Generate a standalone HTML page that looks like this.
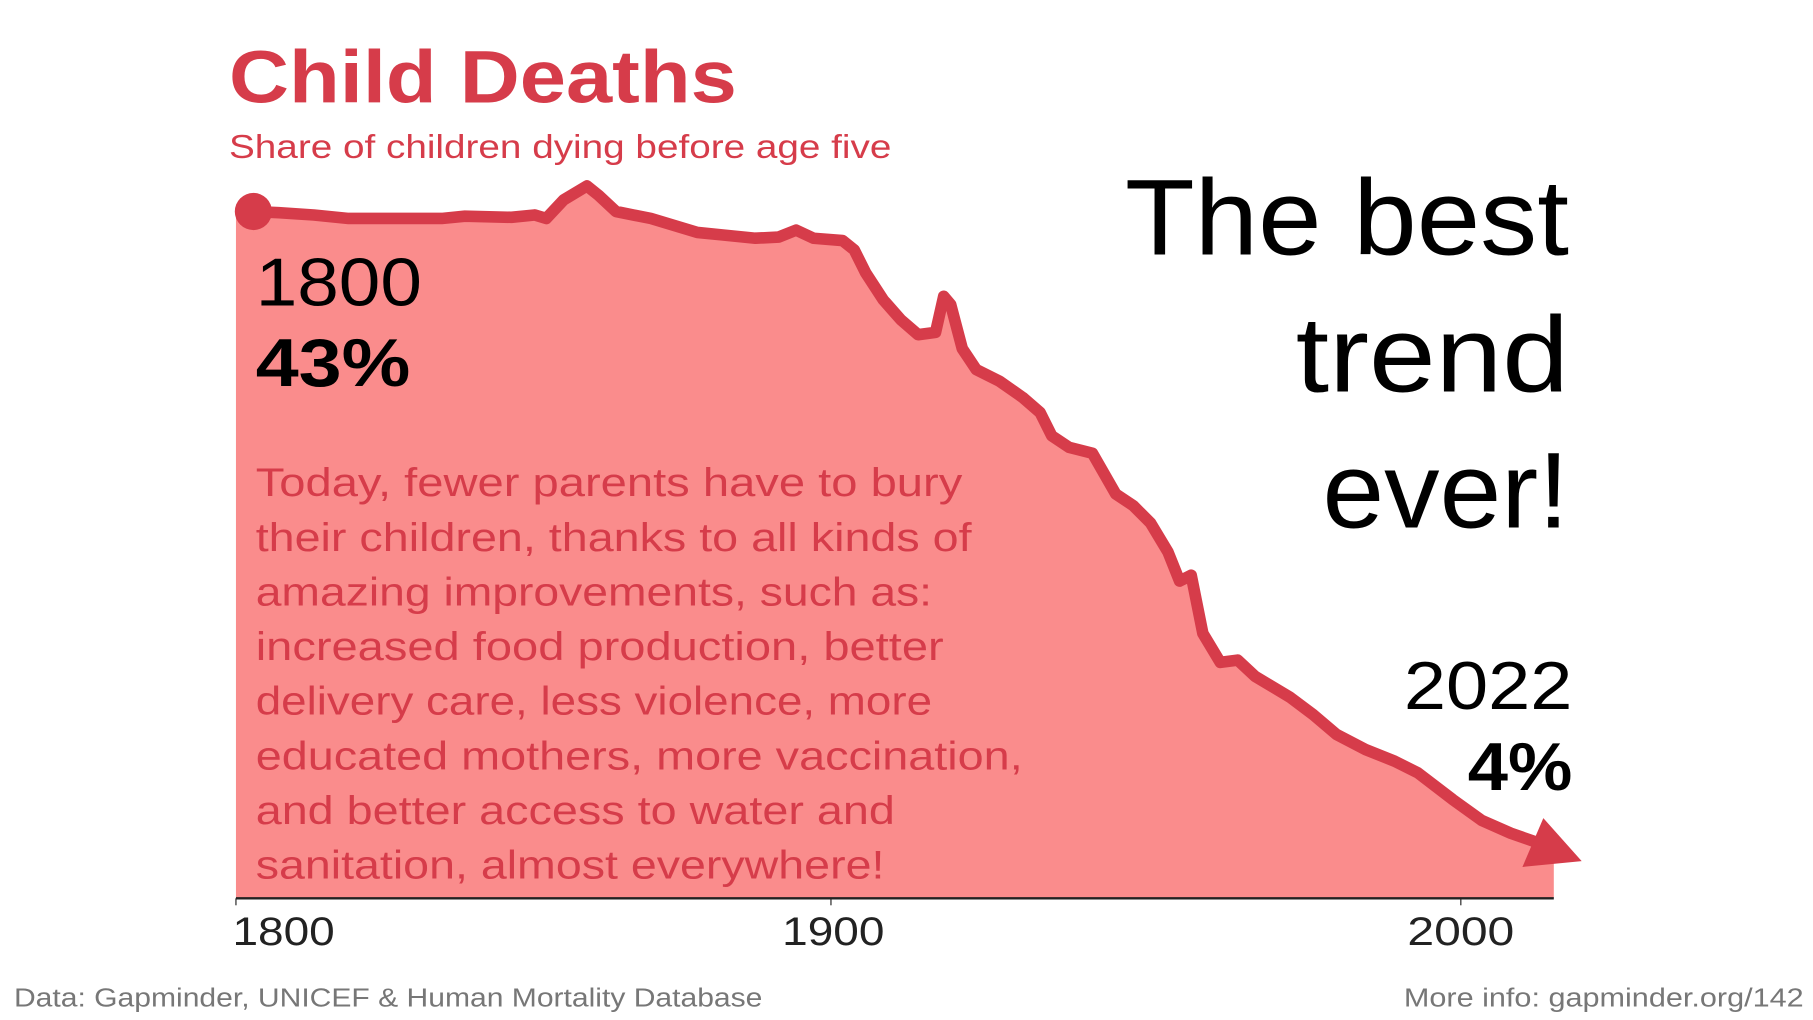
<!DOCTYPE html>
<html><head><meta charset="utf-8"><style>
html,body{margin:0;padding:0;background:#fff;}
svg{display:block;}
text{font-family:"Liberation Sans","DejaVu Sans",sans-serif;}
</style></head><body>
<svg width="1813" height="1020" viewBox="0 0 1560 877.7" xmlns="http://www.w3.org/2000/svg">
<rect width="1560" height="878" fill="#fff"/>
<text x="197" y="88" font-size="64" font-weight="bold" fill="#d63c4a" textLength="437" lengthAdjust="spacingAndGlyphs">Child Deaths</text>
<text x="197" y="136" font-size="29" fill="#d63c4a" textLength="570" lengthAdjust="spacingAndGlyphs">Share of children dying before age five</text>
<path d="M203,182 L218,182 L240,183 L270,185 L300,188 L340,188 L380,188 L400,186 L440,187 L460,185 L470,188 L485,172 L505,160 L515,168 L530,182 L560,188 L600,200 L620,202 L650,205 L670,204 L685,198 L700,205 L725,207 L735,215 L745,235 L760,258 L775,275 L790,288 L805,286 L812,255 L818,262 L828,300 L840,318 L860,328 L880,342 L895,355 L905,375 L920,385 L940,390 L960,425 L975,435 L990,450 L1005,475 L1015,500 L1025,495 L1035,545 L1050,570 L1065,568 L1080,582 L1110,600 L1130,615 L1150,632 L1175,645 L1200,655 L1220,665 L1250,688 L1275,706 L1300,717 L1320,722 L1337,725 L1337,773 L203,773 Z" fill="#fa8c8c"/>
<path d="M218,182 L240,183 L270,185 L300,188 L340,188 L380,188 L400,186 L440,187 L460,185 L470,188 L485,172 L505,160 L515,168 L530,182 L560,188 L600,200 L620,202 L650,205 L670,204 L685,198 L700,205 L725,207 L735,215 L745,235 L760,258 L775,275 L790,288 L805,286 L812,255 L818,262 L828,300 L840,318 L860,328 L880,342 L895,355 L905,375 L920,385 L940,390 L960,425 L975,435 L990,450 L1005,475 L1015,500 L1025,495 L1035,545 L1050,570 L1065,568 L1080,582 L1110,600 L1130,615 L1150,632 L1175,645 L1200,655 L1220,665 L1250,688 L1275,706 L1300,717 L1320,724" fill="none" stroke="#d63c4a" stroke-width="10" stroke-linejoin="round" stroke-linecap="round"/>
<circle cx="218" cy="182" r="16" fill="#d63c4a"/>
<polygon points="1361,741 1310,746 1328,704" fill="#d63c4a"/>
<line x1="203" y1="773" x2="1337" y2="773" stroke="#222" stroke-width="2"/>
<line x1="203" y1="773" x2="203" y2="779" stroke="#222" stroke-width="1"/>
<line x1="715" y1="773" x2="715" y2="779" stroke="#222" stroke-width="1"/>
<line x1="1257" y1="773" x2="1257" y2="779" stroke="#222" stroke-width="1"/>
<text x="200" y="813" font-size="34" fill="#222" textLength="88" lengthAdjust="spacingAndGlyphs">1800</text>
<text x="673" y="813" font-size="34" fill="#222" textLength="88" lengthAdjust="spacingAndGlyphs">1900</text>
<text x="1211" y="813" font-size="34" fill="#222" textLength="92" lengthAdjust="spacingAndGlyphs">2000</text>
<text x="220" y="263" font-size="58" fill="#000" textLength="143" lengthAdjust="spacingAndGlyphs">1800</text>
<text x="220" y="332" font-size="58" font-weight="bold" fill="#000" textLength="133" lengthAdjust="spacingAndGlyphs">43%</text>
<text x="1208" y="610" font-size="58" fill="#000" textLength="145" lengthAdjust="spacingAndGlyphs">2022</text>
<text x="1263" y="680" font-size="58" font-weight="bold" fill="#000" textLength="90" lengthAdjust="spacingAndGlyphs">4%</text>
<g font-size="93" fill="#000">
<text x="968" y="219" textLength="382" lengthAdjust="spacingAndGlyphs">The best</text>
<text x="1115" y="337" textLength="235" lengthAdjust="spacingAndGlyphs">trend</text>
<text x="1138" y="454" textLength="212" lengthAdjust="spacingAndGlyphs">ever!</text>
</g>
<g font-size="34" fill="#d63c4a" lengthAdjust="spacingAndGlyphs">
<text x="220" y="427" textLength="608" lengthAdjust="spacingAndGlyphs">Today, fewer parents have to bury</text>
<text x="220" y="474" textLength="616" lengthAdjust="spacingAndGlyphs">their children, thanks to all kinds of</text>
<text x="220" y="521" textLength="582" lengthAdjust="spacingAndGlyphs">amazing improvements, such as:</text>
<text x="220" y="568" textLength="592" lengthAdjust="spacingAndGlyphs">increased food production, better</text>
<text x="220" y="615" textLength="582" lengthAdjust="spacingAndGlyphs">delivery care, less violence, more</text>
<text x="220" y="662" textLength="660" lengthAdjust="spacingAndGlyphs">educated mothers, more vaccination,</text>
<text x="220" y="709" textLength="550" lengthAdjust="spacingAndGlyphs">and better access to water and</text>
<text x="220" y="756" textLength="541" lengthAdjust="spacingAndGlyphs">sanitation, almost everywhere!</text>
</g>
<text x="12" y="866" font-size="22" fill="#777" textLength="644" lengthAdjust="spacingAndGlyphs">Data: Gapminder, UNICEF &amp; Human Mortality Database</text>
<text x="1208" y="866" font-size="22" fill="#777" textLength="344" lengthAdjust="spacingAndGlyphs">More info: gapminder.org/142</text>
</svg>
</body></html>
